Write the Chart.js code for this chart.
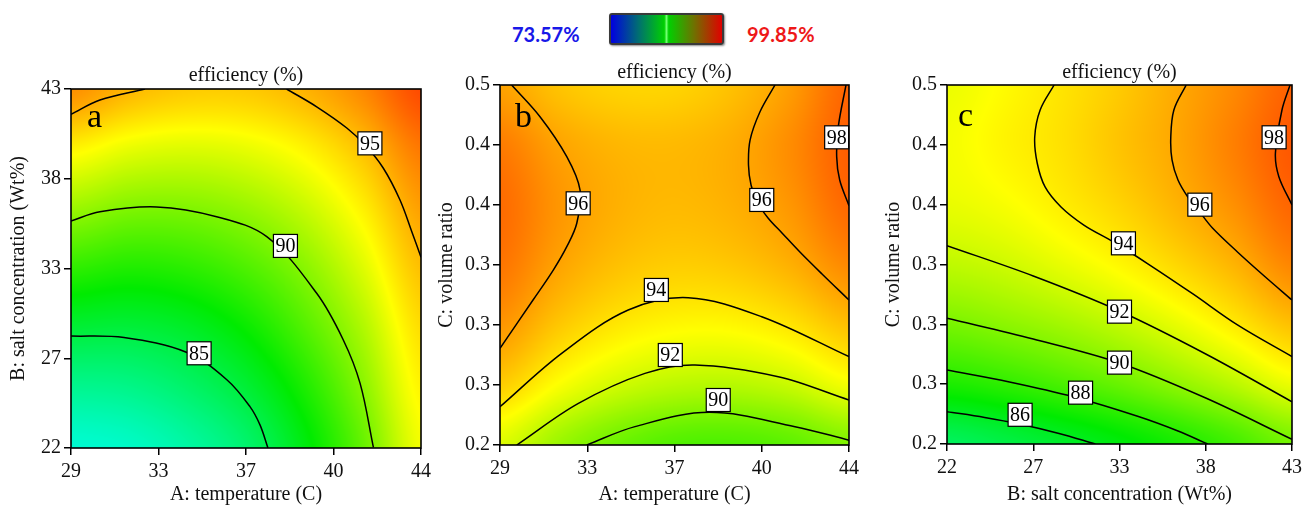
<!DOCTYPE html>
<html>
<head>
<meta charset="utf-8">
<script src="https://cdn.jsdelivr.net/npm/chart.js@4.4.1/dist/chart.umd.min.js"></script>
<style>
  html, body { margin:0; padding:0; background:#fff; }
  body { width:1307px; height:507px; overflow:hidden; position:relative; }
  .cv { position:absolute; top:0; }
  .letter { position:absolute; font-family:'Liberation Serif','Times New Roman',serif; font-size:34px; line-height:34px; color:#000; }
  .lgtxt { position:absolute; font-family:Lato,'Open Sans',sans-serif; font-weight:bold; font-size:20px; line-height:24px; }
  #bar { position:absolute; left:609px; top:13px; width:111px; height:28px; border:2px solid #3a3a3a; border-radius:3px;
         box-shadow:1px 1px 2px rgba(0,0,0,0.45);
         background:linear-gradient(to right,#0000e0 0%,#007070 25%,#00d000 48%,#70ff70 50%,#00d000 52%,#707000 75%,#e00000 100%); }
</style>
</head>
<body>
<div class="lgtxt" id="lgMin" style="left:512px;top:22px;color:#1818e8;"></div>
<div id="bar"></div>
<div class="lgtxt" id="lgMax" style="left:747px;top:22px;color:#ee1818;"></div>

<canvas id="cA" class="cv" style="left:0px" width="440" height="507"></canvas>
<canvas id="cB" class="cv" style="left:425px" width="450" height="507"></canvas>
<canvas id="cC" class="cv" style="left:875px" width="432" height="507"></canvas>

<div class="letter" id="lA" style="left:87px;top:99px;"></div>
<div class="letter" id="lB" style="left:515px;top:99px;"></div>
<div class="letter" id="lC" style="left:958px;top:98px;"></div>

<script>
// ---------------- data ----------------
const legendMin = 73.57, legendMax = 99.85;
const legendMinLabel = '73.57%', legendMaxLabel = '99.85%';
const panelTitle = 'efficiency (%)';
const panelLetters = ['a', 'b', 'c'];
const titleTemp = 'A: temperature (C)';
const titleSalt = 'B: salt concentration (Wt%)';
const titleRatio = 'C: volume ratio';

const tempTicks = [29, 32.75, 36.5, 40.25, 44];
const tempTickLabels = ['29', '33', '37', '40', '44'];
const saltTicks = [22, 27.25, 32.5, 37.75, 43];
const saltTickLabels = ['22', '27', '33', '38', '43'];
const ratioTicks = [0.2, 0.25, 0.3, 0.35, 0.4, 0.45, 0.5];
const ratioTickLabels = ['0.2', '0.3', '0.3', '0.3', '0.4', '0.4', '0.5'];

// sample grids (estimated efficiency values at grid nodes)
const gridTemp = [29, 31.5, 34, 36.5, 39, 41.5, 44];
const gridSalt = [22, 25.5, 29, 32.5, 36, 39.5, 43];
const gridRatio = [0.2, 0.25, 0.3, 0.35, 0.4, 0.45, 0.5];

// panel a: rows = salt (bottom->top), cols = temperature
const effA = [
  [81.3, 81.6, 82.5, 83.9, 86.3, 89.3, 93.0],
  [83.0, 83.2, 84.0, 85.3, 87.4, 90.2, 93.6],
  [85.3, 85.2, 85.7, 86.9, 88.8, 91.2, 94.3],
  [87.9, 87.5, 87.8, 88.7, 90.2, 92.4, 95.2],
  [90.7, 90.0, 90.0, 90.6, 91.8, 93.7, 96.2],
  [93.6, 92.7, 92.4, 92.7, 93.6, 95.2, 97.4],
  [96.7, 95.5, 94.9, 94.9, 95.6, 96.9, 98.8]
];
// panel b: rows = volume ratio, cols = temperature
const effB = [
  [92.4, 90.7, 89.5, 88.8, 88.7, 89.1, 90.0],
  [94.8, 93.2, 92.1, 91.5, 91.4, 91.9, 93.0],
  [96.5, 95.0, 94.0, 93.5, 93.5, 94.1, 95.2],
  [97.5, 96.1, 95.2, 94.8, 95.0, 95.7, 96.9],
  [97.8, 96.5, 95.7, 95.4, 95.7, 96.5, 97.9],
  [97.3, 96.1, 95.5, 95.4, 95.8, 96.8, 98.2],
  [96.1, 95.1, 94.6, 94.6, 95.2, 96.3, 98.0]
];
// panel c: rows = volume ratio, cols = salt
const effC = [
  [84.3, 84.9, 85.6, 86.4, 87.3, 88.4, 89.7],
  [87.4, 87.9, 88.6, 89.4, 90.4, 91.5, 92.8],
  [89.8, 90.3, 90.9, 91.7, 92.7, 93.9, 95.2],
  [91.6, 92.0, 92.7, 93.5, 94.5, 95.6, 97.0],
  [92.7, 93.1, 93.8, 94.6, 95.6, 96.7, 98.0],
  [93.0, 93.6, 94.2, 95.1, 96.0, 97.2, 98.4],
  [92.8, 93.4, 94.1, 94.9, 95.9, 96.9, 98.1]
];

// contour lines
const a85 = [{x:29,y:28.55},{x:31.27,y:28.46},{x:33.97,y:27.59},{x:35.69,y:25.98},{x:36.67,y:24.42},{x:37.1,y:23.35},{x:37.44,y:22}];
const a90 = [{x:29,y:35.28},{x:30.24,y:35.82},{x:32.67,y:36.1},{x:35.24,y:35.53},{x:37.39,y:34.36},{x:39.53,y:31.05},{x:40.67,y:28.32},{x:41.39,y:25.78},{x:41.96,y:22.04}];
const a95 = [{x:38.24,y:43},{x:39.53,y:41.96},{x:40.82,y:40.72},{x:41.6,y:39.72},{x:42.38,y:38.38},{x:43.1,y:36.51},{x:43.61,y:34.64},{x:44,y:33.16}];
const a95b = [{x:29,y:41.52},{x:30.24,y:42.36},{x:32.17,y:43}];
const labelsA = [{x:34.49,y:27.54,t:'85'},{x:38.19,y:33.82,t:'90'},{x:41.81,y:39.82,t:'95'}];

const b90 = [{x:32.73,y:0.2},{x:34.8,y:0.2153},{x:38.0,y:0.2272},{x:41.68,y:0.2153},{x:44,y:0.204}];
const b92 = [{x:29.72,y:0.2},{x:32.37,y:0.2347},{x:35.23,y:0.2597},{x:37.38,y:0.2667},{x:40.96,y:0.2569},{x:44,y:0.2375}];
const b94 = [{x:29,y:0.2319},{x:31.65,y:0.2764},{x:34.51,y:0.3125},{x:37.09,y:0.3228},{x:40.25,y:0.3069},{x:44,y:0.2736}];
const b96L = [{x:29.5,y:0.5},{x:30.72,y:0.4736},{x:31.87,y:0.4403},{x:32.44,y:0.4125},{x:32.3,y:0.3848},{x:31.87,y:0.3653},{x:31.29,y:0.3458},{x:30.42,y:0.3208},{x:29,y:0.2806}];
const b96R = [{x:40.82,y:0.5},{x:40.17,y:0.4775},{x:39.75,y:0.4542},{x:39.68,y:0.4333},{x:39.79,y:0.4167},{x:40.05,y:0.4025},{x:40.52,y:0.3892},{x:41.12,y:0.3767},{x:41.89,y:0.3608},{x:42.84,y:0.3425},{x:44,y:0.3208}];
const b98 = [{x:43.87,y:0.5},{x:43.54,y:0.4653},{x:43.47,y:0.4403},{x:43.6,y:0.4208},{x:44,y:0.3994}];
const labelsB = [{x:32.36,y:0.4014,t:'96'},{x:40.25,y:0.4042,t:'96'},{x:43.47,y:0.4564,t:'98'},{x:35.72,y:0.3292,t:'94'},{x:36.32,y:0.275,t:'92'},{x:38.38,y:0.2375,t:'90'}];

const c86 = [{x:22,y:0.227},{x:24.29,y:0.2222},{x:26.41,y:0.2167},{x:28.82,y:0.2088},{x:31.03,y:0.2}];
const c88 = [{x:22,y:0.2618},{x:25.8,y:0.2518},{x:29.72,y:0.2393},{x:33.65,y:0.223},{x:36.06,y:0.2109},{x:37.87,y:0.2}];
const c90 = [{x:22,y:0.305},{x:27.25,y:0.2877},{x:32.5,y:0.2677},{x:37.75,y:0.2384},{x:43,y:0.2039}];
const c92 = [{x:22,y:0.3657},{x:27.25,y:0.3404},{x:32.5,y:0.3111},{x:37.75,y:0.2752},{x:43,y:0.2353}];
const c94 = [{x:28.52,y:0.5},{x:27.67,y:0.4791},{x:27.34,y:0.4565},{x:27.49,y:0.4348},{x:27.97,y:0.4148},{x:28.94,y:0.3981},{x:30.33,y:0.383},{x:32.14,y:0.3688},{x:34.25,y:0.3504},{x:36.97,y:0.3254},{x:39.68,y:0.2995},{x:43,y:0.273}];
const c96 = [{x:36.56,y:0.5},{x:35.81,y:0.4791},{x:35.62,y:0.4557},{x:35.7,y:0.4373},{x:36.06,y:0.4206},{x:36.66,y:0.4064},{x:37.38,y:0.3939},{x:38.16,y:0.3805},{x:39.68,y:0.3605},{x:41.31,y:0.3404},{x:43,y:0.3203}];
const c98 = [{x:42.88,y:0.5},{x:42.39,y:0.4791},{x:41.99,y:0.443},{x:42.2,y:0.4234},{x:43,y:0.3997}];
const labelsC = [{x:32.74,y:0.3677,t:'94'},{x:32.5,y:0.3106,t:'92'},{x:32.5,y:0.268,t:'90'},{x:30.13,y:0.2429,t:'88'},{x:26.45,y:0.2244,t:'86'},{x:37.39,y:0.4,t:'96'},{x:41.91,y:0.4563,t:'98'}];

// ---------------- rendering helpers ----------------
document.getElementById('lgMin').textContent = legendMinLabel;
document.getElementById('lgMax').textContent = legendMaxLabel;
document.getElementById('lA').textContent = panelLetters[0];
document.getElementById('lB').textContent = panelLetters[1];
document.getElementById('lC').textContent = panelLetters[2];

const SERIF = "'Liberation Serif', 'Times New Roman', serif";
const STOPS = [[0,0,255],[0,255,255],[0,235,0],[255,255,0],[255,40,0]];
function colorFor(v) {
  let t = (v - legendMin) / (legendMax - legendMin);
  t = Math.max(0, Math.min(1, t));
  const p = t * (STOPS.length - 1);
  const i = Math.min(STOPS.length - 2, Math.floor(p));
  const f = p - i;
  const a = STOPS[i], b = STOPS[i + 1];
  return [a[0] + (b[0] - a[0]) * f, a[1] + (b[1] - a[1]) * f, a[2] + (b[2] - a[2]) * f];
}
function fracIndex(g, v) {
  if (v <= g[0]) return 0;
  const n = g.length - 1;
  if (v >= g[n]) return n;
  for (let k = 0; k < n; k++) if (v <= g[k + 1]) return k + (v - g[k]) / (g[k + 1] - g[k]);
  return n;
}
function cr(p0, p1, p2, p3, t) {
  return 0.5 * ((2 * p1) + (-p0 + p2) * t + (2 * p0 - 5 * p1 + 4 * p2 - p3) * t * t + (-p0 + 3 * p1 - 3 * p2 + p3) * t * t * t);
}
function sample(z, fx, fy) {
  const ny = z.length, nx = z[0].length;
  const i = Math.min(nx - 2, Math.floor(fx)), j = Math.min(ny - 2, Math.floor(fy));
  const tx = fx - i, ty = fy - j;
  const cl = (a, n) => Math.max(0, Math.min(n - 1, a));
  const rows = [];
  for (let r = -1; r <= 2; r++) {
    const row = z[cl(j + r, ny)];
    rows.push(cr(row[cl(i - 1, nx)], row[i], row[i + 1], row[cl(i + 2, nx)], tx));
  }
  return cr(rows[0], rows[1], rows[2], rows[3], ty);
}
function heatPlugin(gx, gy, z) {
  return {
    id: 'heat',
    beforeDatasetsDraw(chart) {
      const {ctx, chartArea: ca, scales: {x, y}} = chart;
      const w = Math.round(ca.right - ca.left), h = Math.round(ca.bottom - ca.top);
      const off = document.createElement('canvas');
      off.width = w; off.height = h;
      const octx = off.getContext('2d');
      const img = octx.createImageData(w, h);
      const fxs = [];
      for (let i = 0; i < w; i++) fxs.push(fracIndex(gx, x.getValueForPixel(ca.left + i + 0.5)));
      for (let j = 0; j < h; j++) {
        const fy = fracIndex(gy, y.getValueForPixel(ca.top + j + 0.5));
        for (let i = 0; i < w; i++) {
          const c = colorFor(sample(z, fxs[i], fy));
          const k = (j * w + i) * 4;
          img.data[k] = c[0]; img.data[k + 1] = c[1]; img.data[k + 2] = c[2]; img.data[k + 3] = 255;
        }
      }
      octx.putImageData(img, 0, 0);
      ctx.save();
      ctx.drawImage(off, ca.left, ca.top);
      ctx.restore();
    }
  };
}
function labelPlugin(labels) {
  return {
    id: 'clabels',
    afterDatasetsDraw(chart) {
      const {ctx, chartArea: ca, scales: {x, y}} = chart;
      ctx.save();
      ctx.font = '20px ' + SERIF;
      ctx.textAlign = 'center';
      ctx.textBaseline = 'middle';
      labels.forEach(l => {
        const px = x.getPixelForValue(l.x), py = y.getPixelForValue(l.y);
        const tw = ctx.measureText(l.t).width + 4, th = 23;
        ctx.fillStyle = '#fff';
        ctx.fillRect(px - tw / 2, py - th / 2, tw, th);
        ctx.strokeStyle = '#000'; ctx.lineWidth = 1.2;
        ctx.strokeRect(px - tw / 2, py - th / 2, tw, th);
        ctx.fillStyle = '#000';
        ctx.fillText(l.t, px, py + 1);
      });
      ctx.strokeStyle = '#000'; ctx.lineWidth = 1.6;
      ctx.strokeRect(ca.left, ca.top, ca.right - ca.left, ca.bottom - ca.top);
      ctx.restore();
    }
  };
}
function contourSet(pts) {
  return { data: pts, showLine: true, pointRadius: 0, borderColor: '#000', borderWidth: 1.5, tension: 0.35, fill: false };
}
function axis(min, max, tickVals, tickLabels, title, titlePad, tickPad, fitKey, fitVal) {
  return {
    type: 'linear', min: min, max: max,
    afterBuildTicks: s => { s.ticks = tickVals.map(v => ({value: v})); },
    afterFit: s => { s[fitKey] = fitVal; },
    ticks: { autoSkip: false, maxRotation: 0, minRotation: 0, color: '#111', padding: tickPad,
             font: { family: SERIF, size: 20 }, callback: (v, i) => tickLabels[i] },
    grid: { display: true, drawOnChartArea: false, drawTicks: true, tickLength: 7, color: '#000', lineWidth: 1.5 },
    border: { display: false },
    title: { display: true, text: title, color: '#111', font: { family: SERIF, size: 20 }, padding: titlePad }
  };
}
function makePanel(id, g) {
  new Chart(document.getElementById(id), {
    type: 'scatter',
    data: { datasets: g.contours.map(contourSet) },
    options: {
      responsive: false, animation: false, events: [],
      layout: { padding: { left: 0, right: g.padRight, top: 0, bottom: 0 } },
      plugins: {
        legend: { display: false }, tooltip: { enabled: false },
        title: { display: true, text: panelTitle, fullSize: false, color: '#111',
                 font: { family: SERIF, size: 20, weight: 'normal', lineHeight: 1 }, padding: { top: g.tPadTop, bottom: g.tPadBottom } }
      },
      scales: {
        x: axis(g.xMin, g.xMax, g.xTicks, g.xLabels, g.xTitle, { top: 0, bottom: 0 }, 5, 'height', g.xAxisH),
        y: axis(g.yMin, g.yMax, g.yTicks, g.yLabels, g.yTitle, { top: g.yTitlePad, bottom: 0 }, 3, 'width', g.yAxisW)
      }
    },
    plugins: [heatPlugin(g.gx, g.gy, g.z), labelPlugin(g.labels)]
  });
}

makePanel('cA', {
  contours: [a85, a90, a95, a95b], labels: labelsA, gx: gridTemp, gy: gridSalt, z: effA,
  xMin: 29, xMax: 44, xTicks: tempTicks, xLabels: tempTickLabels, xTitle: titleTemp,
  yMin: 22, yMax: 43, yTicks: saltTicks, yLabels: saltTickLabels, yTitle: titleSalt,
  padRight: 19, tPadTop: 66, tPadBottom: 3, xAxisH: 59, yAxisW: 71, yTitlePad: 7
});
makePanel('cB', {
  contours: [b90, b92, b94, b96L, b96R, b98], labels: labelsB, gx: gridTemp, gy: gridRatio, z: effB,
  xMin: 29, xMax: 44, xTicks: tempTicks, xLabels: tempTickLabels, xTitle: titleTemp,
  yMin: 0.2, yMax: 0.5, yTicks: ratioTicks, yLabels: ratioTickLabels, yTitle: titleRatio,
  padRight: 26, tPadTop: 63, tPadBottom: 2, xAxisH: 62, yAxisW: 75, yTitlePad: 10
});
makePanel('cC', {
  contours: [c86, c88, c90, c92, c94, c96, c98], labels: labelsC, gx: gridSalt, gy: gridRatio, z: effC,
  xMin: 22, xMax: 43, xTicks: saltTicks, xLabels: saltTickLabels, xTitle: titleSalt,
  yMin: 0.2, yMax: 0.5, yTicks: ratioTicks, yLabels: ratioTickLabels, yTitle: titleRatio,
  padRight: 12, tPadTop: 63, tPadBottom: 2, xAxisH: 63, yAxisW: 72, yTitlePad: 7
});
</script>
</body>
</html>
